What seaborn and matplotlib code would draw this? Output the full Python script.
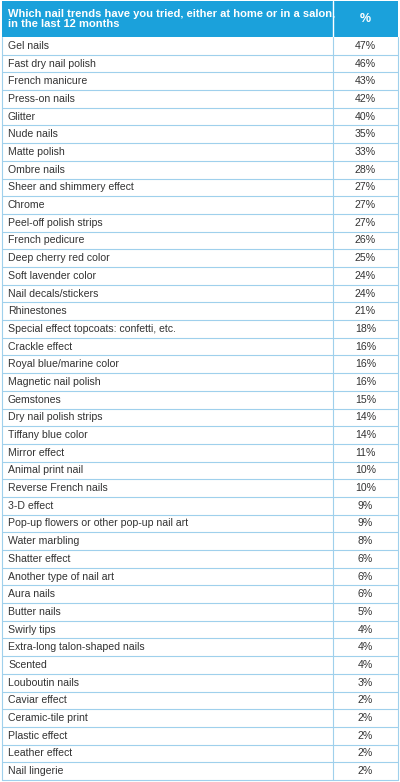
import matplotlib
matplotlib.use("Agg")
import matplotlib.pyplot as plt
import seaborn as sns

header_label = "Which nail trends have you tried, either at home or in a salon,\nin the last 12 months"
header_value = "%"

trends = [
    "Gel nails", "Fast dry nail polish", "French manicure", "Press-on nails", "Glitter",
    "Nude nails", "Matte polish", "Ombre nails", "Sheer and shimmery effect", "Chrome",
    "Peel-off polish strips", "French pedicure", "Deep cherry red color", "Soft lavender color",
    "Nail decals/stickers", "Rhinestones", "Special effect topcoats: confetti, etc.",
    "Crackle effect", "Royal blue/marine color", "Magnetic nail polish", "Gemstones",
    "Dry nail polish strips", "Tiffany blue color", "Mirror effect", "Animal print nail",
    "Reverse French nails", "3-D effect", "Pop-up flowers or other pop-up nail art",
    "Water marbling", "Shatter effect", "Another type of nail art", "Aura nails",
    "Butter nails", "Swirly tips", "Extra-long talon-shaped nails", "Scented",
    "Louboutin nails", "Caviar effect", "Ceramic-tile print", "Plastic effect",
    "Leather effect", "Nail lingerie",
]
shares = [47, 46, 43, 42, 40, 35, 33, 28, 27, 27, 27, 26, 25, 24, 24, 21, 18, 16, 16, 16,
          15, 14, 14, 11, 10, 10, 9, 9, 8, 6, 6, 6, 5, 4, 4, 4, 3, 2, 2, 2, 2, 2]

sns.set_theme(style="white")
plt.rcParams['font.family'] = ['Liberation Sans', 'DejaVu Sans']

W, H = 400, 782
fig = plt.figure(figsize=(W / 100, H / 100), dpi=100)
ax = fig.add_axes([0, 0, 1, 1])
ax.set_xlim(0, W)
ax.set_ylim(H, 0)
ax.axis("off")

blue = "#1ba1db"
line = "#9fd0ec"
left, right, split = 2, 398, 333
head_top, head_bot, bottom = 1, 37, 780
n = len(trends)
row_h = (bottom - head_bot) / n

ax.add_patch(plt.Rectangle((left, head_top), right - left, head_bot - head_top, color=blue, lw=0))
ax.plot([split, split], [head_top, head_bot], color="white", lw=1)
ax.text(left + 6, (head_top + head_bot) / 2, header_label, color="white", fontsize=8.0,
        fontweight="bold", va="center", ha="left", linespacing=0.95)
ax.text((split + right) / 2, (head_top + head_bot) / 2, header_value, color="white",
        fontsize=9, fontweight="bold", va="center", ha="center")

for i, (name, val) in enumerate(zip(trends, shares)):
    y0 = head_bot + i * row_h
    yc = y0 + row_h / 2
    ax.text(left + 6, yc, name, fontsize=7.6, color="#333333", va="center", ha="left")
    ax.text((split + right) / 2, yc, f"{val}%", fontsize=7.6, color="#333333", va="center", ha="center")
    ax.plot([left, right], [y0 + row_h, y0 + row_h], color=line, lw=0.8)

ax.plot([left, left], [head_bot, bottom], color=line, lw=0.8)
ax.plot([right, right], [head_bot, bottom], color=line, lw=0.8)
ax.plot([split, split], [head_bot, bottom], color=line, lw=0.8)

fig.savefig("out.png", dpi=100)
